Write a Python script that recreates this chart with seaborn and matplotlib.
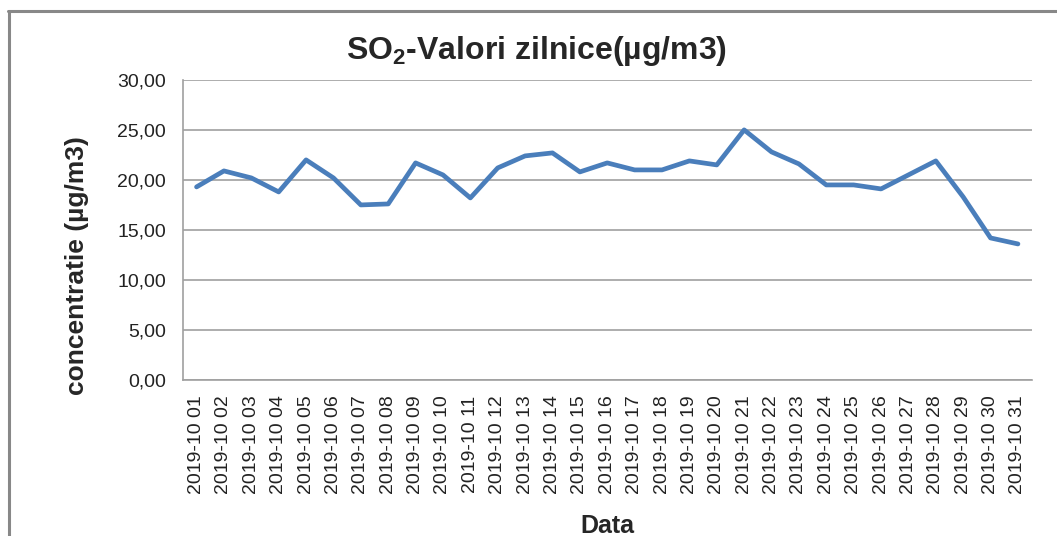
import pandas as pd
import seaborn as sns
from matplotlib import pyplot as plt
from matplotlib.lines import Line2D
from matplotlib.ticker import FixedLocator, FuncFormatter

days = [f"2019-10 {d:02d}" for d in range(1, 32)]
so2 = [19.3, 20.9, 20.2, 18.8, 22.0, 20.2, 17.5, 17.6, 21.7, 20.5,
       18.2, 21.2, 22.4, 22.7, 20.8, 21.7, 21.0, 21.0, 21.9, 21.5,
       25.0, 22.8, 21.6, 19.5, 19.5, 19.1, 20.5, 21.9, 18.3, 14.2,
       13.6]
y_ticks = [0, 5, 10, 15, 20, 25, 30]


def main():
    sns.set_style("white")
    plt.rcParams['font.family'] = ['Liberation Sans', 'DejaVu Sans']
    plt.rcParams['mathtext.fontset'] = 'custom'
    plt.rcParams['mathtext.bf'] = 'Liberation Sans:bold'
    plt.rcParams['mathtext.rm'] = 'Liberation Sans:bold'

    df = pd.DataFrame({"Data": days, "SO2": so2})

    fig = plt.figure(figsize=(10.57, 5.36), dpi=100)
    ax = fig.add_axes([0.173, 0.291, 0.803, 0.560])

    sns.lineplot(data=df, x="Data", y="SO2", ax=ax, color="#4A7EBB",
                 linewidth=3.4, sort=False)

    ax.set_xlim(-0.5, len(days) - 0.5)
    ax.set_ylim(0, 30)
    ax.set_yticks(y_ticks)
    ax.yaxis.set_major_formatter(FuncFormatter(lambda v, p: f"{v:.2f}".replace(".", ",")))
    ax.yaxis.grid(True, color="#A0A0A0", linewidth=1.2)
    ax.xaxis.grid(False)

    ax.set_xticks(range(len(days)))
    ax.set_xticklabels(days, rotation=90)
    ax.xaxis.set_minor_locator(FixedLocator([i - 0.5 for i in range(len(days) + 1)]))
    ax.tick_params(axis="x", which="major", length=0, pad=11, labelsize=14, colors="#222222")
    ax.tick_params(axis="x", which="minor", length=6, width=1, color="#A0A0A0", direction="out")
    ax.tick_params(axis="y", which="major", length=6, width=1, color="#A0A0A0",
                   direction="out", labelsize=14, pad=6, labelcolor="#222222")

    for s in ["top", "right"]:
        ax.spines[s].set_visible(False)
    for s in ["left", "bottom"]:
        ax.spines[s].set_color("#A0A0A0")
        ax.spines[s].set_linewidth(1.2)

    ax.set_xlabel("Data", fontsize=18, fontweight="bold", labelpad=14)
    ax.set_ylabel("concentratie (µg/m3)", fontsize=19, fontweight="bold")
    ax.yaxis.set_label_coords(-0.111, 0.383)
    fig.text(0.508, 0.905, r"SO$_{\mathbf{2}}$-Valori zilnice(µg/m3)",
             ha="center", va="center", fontsize=23, fontweight="bold")

    # chart frame (only the left and top edges are visible in the crop)
    fig.add_artist(Line2D([0.0085, 0.0085], [0.0, 0.979], color="#888888", linewidth=2.2))
    fig.add_artist(Line2D([0.0075, 1.0], [0.979, 0.979], color="#888888", linewidth=2.2))

    plt.savefig("out.png", dpi=100)


if __name__ == '__main__':
    main()
